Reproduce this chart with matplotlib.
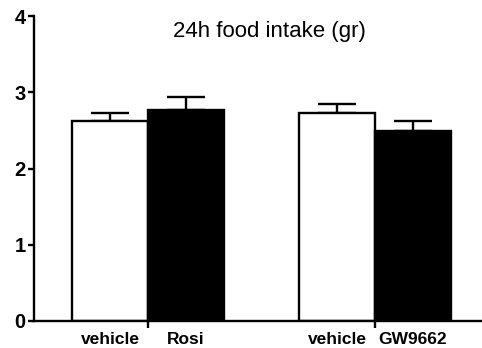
import matplotlib
matplotlib.use("Agg")
import matplotlib.pyplot as plt
import numpy as np

categories = ["vehicle", "Rosi", "vehicle", "GW9662"]
means = [2.62, 2.77, 2.73, 2.49]
sems = [0.11, 0.17, 0.12, 0.13]
colors = ["white", "black", "white", "black"]
positions = [0, 1, 3, 4]
yticks = [0, 1, 2, 3, 4]
title = "24h food intake (gr)"

plt.rcParams['font.family'] = ['Liberation Sans', 'DejaVu Sans']

fig = plt.figure(figsize=(4.82, 3.48), dpi=100)
ax = fig.add_axes([0.0705, 0.0776, 0.9295, 0.8764])

ax.bar(positions, means, width=1.0, color=colors, edgecolor="black", linewidth=1.7, zorder=2)
ax.errorbar(positions, means, yerr=[np.zeros(len(means)), sems], fmt="none",
            ecolor="black", elinewidth=1.7, capsize=14, capthick=1.7, zorder=1)

ax.set_xlim(-1.007, 4.914)
ax.set_ylim(0, 4)
ax.set_yticks(yticks)
ax.set_yticklabels([str(t) for t in yticks], fontsize=14.5, fontweight="bold")

ax.set_xticks([0.5, 3.5])
ax.set_xticklabels(["", ""])
ax.set_xticks(positions, minor=True)
ax.set_xticklabels(categories, minor=True, fontsize=12.5, fontweight="bold")
ax.tick_params(axis="x", which="major", length=5, width=1.7, direction="out")
ax.tick_params(axis="x", which="minor", length=0, pad=8)
ax.tick_params(axis="y", length=4, width=1.7, pad=2)

for s in ["top", "right"]:
    ax.spines[s].set_visible(False)
for s in ["left", "bottom"]:
    ax.spines[s].set_linewidth(1.7)

ax.text(0.525, 0.948, title, transform=ax.transAxes, ha="center", va="center", fontsize=16)

fig.savefig("out.png", dpi=100)
